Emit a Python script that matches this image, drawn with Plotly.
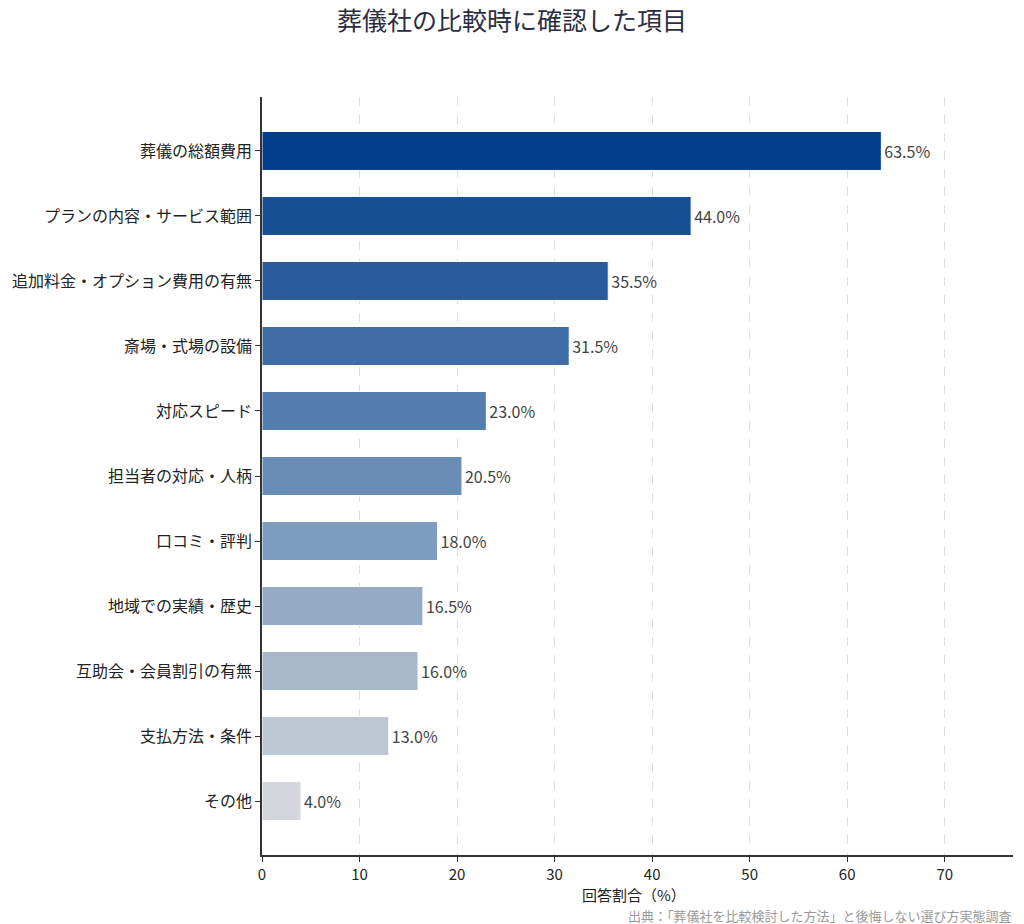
import plotly.graph_objects as go

categories = ["葬儀の総額費用", "プランの内容・サービス範囲", "追加料金・オプション費用の有無",
              "斎場・式場の設備", "対応スピード", "担当者の対応・人柄", "口コミ・評判",
              "地域での実績・歴史", "互助会・会員割引の有無", "支払方法・条件", "その他"]
values = [63.5, 44.0, 35.5, 31.5, 23.0, 20.5, 18.0, 16.5, 16.0, 13.0, 4.0]
colors = ["#013d88", "#174e94", "#2a5c9c", "#3e6ba4", "#537dad", "#6a8db5", "#7e9cbd",
          "#94aac5", "#a8b8cb", "#bec8d3", "#d3d7db"]
x_ticks = [0, 10, 20, 30, 40, 50, 60, 70]

font = "Noto Sans CJK JP, Noto Sans, sans-serif"

fig = go.Figure(go.Bar(
    x=values, y=categories, orientation="h",
    marker=dict(color=colors, line=dict(color="white", width=1)),
    width=0.6,
    text=[f"{v:.1f}%" for v in values], textposition="outside",
    textfont=dict(size=16, color="#444444", family=font),
    cliponaxis=False,
))

fig.update_layout(
    width=1024, height=924,
    margin=dict(l=262, r=11, t=97, b=69),
    paper_bgcolor="white", plot_bgcolor="white",
    font=dict(family=font, color="#222222"),
    title=dict(text="葬儀社の比較時に確認した項目", x=0.5, xref="container", xanchor="center",
               y=0.977, yanchor="middle", font=dict(size=25, color="#2b2d42", family=font)),
    showlegend=False,
    bargap=0.4,
)
fig.update_xaxes(
    range=[0, 77], tickvals=x_ticks, ticks="outside", ticklen=5, tickcolor="#333333",
    showline=True, linecolor="#333333", linewidth=1.5,
    showgrid=True, gridcolor="#dddddd", griddash="dash", gridwidth=1,
    tickfont=dict(size=15, color="#222222"), zeroline=False,
)
fig.update_yaxes(
    autorange=False, range=[10.83, -0.83], categoryorder="array", categoryarray=categories,
    ticks="outside", ticklen=5, tickcolor="#333333",
    showline=True, linecolor="#333333", linewidth=1.5, showgrid=False,
    tickfont=dict(size=16, color="#222222"),
)
fig.add_annotation(text="回答割合（%）", xref="paper", yref="paper", x=0.496, y=-0.0375,
                   xanchor="center", yanchor="top", showarrow=False, borderpad=0,
                   font=dict(size=15, color="#222222", family=font))
fig.add_annotation(text="出典：「葬儀社を比較検討した方法」と後悔しない選び方実態調査",
                   xref="paper", yref="paper", x=1, y=-0.0655, xanchor="right", yanchor="top",
                   showarrow=False, borderpad=0, font=dict(size=13, color="#999999", family=font))

fig.write_html("out.html")
